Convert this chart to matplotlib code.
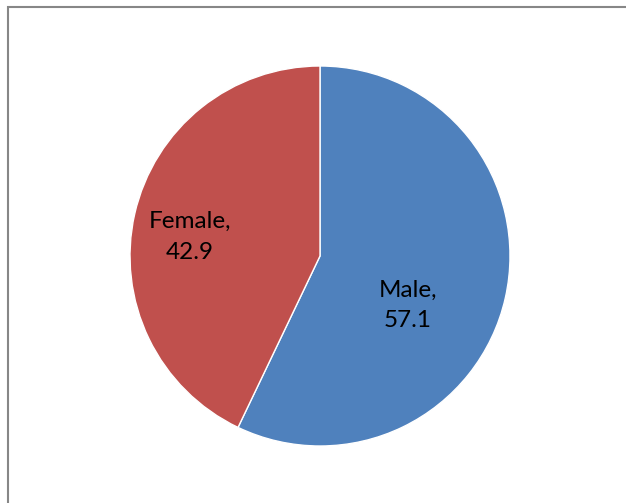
import matplotlib.pyplot as plt
from matplotlib.patches import Rectangle

labels = ['Male', 'Female']
values = [57.1, 42.9]
colors = ['#4F81BD', '#C0504D']

plt.rcParams['font.family'] = ['Lato', 'DejaVu Sans']

fig = plt.figure(figsize=(6.26, 5.03), dpi=100)

# chart frame (cut off at right and bottom in the original)
fig.patches.append(Rectangle((7.5 / 626, -0.1), 1.2, 1 - 6.5 / 503 + 0.1,
                             transform=fig.transFigure, fill=False,
                             edgecolor='#878787', linewidth=1.5))

ax = fig.add_axes([130 / 626, 57 / 503, 380 / 626, 380 / 503])
ax.pie(values, colors=colors, startangle=90, counterclock=False,
       wedgeprops=dict(edgecolor='white', linewidth=1))
ax.set_xlim(-1, 1)
ax.set_ylim(-1, 1)

# data labels
label_pos = [(0.463, -0.258), (-0.684, 0.10)]
for lab, val, (x, y) in zip(labels, values, label_pos):
    ax.text(x, y, f'{lab},\n{val}', ha='center', va='center', fontsize=17.5,
            linespacing=1.55)

plt.savefig('out.png', dpi=100)
